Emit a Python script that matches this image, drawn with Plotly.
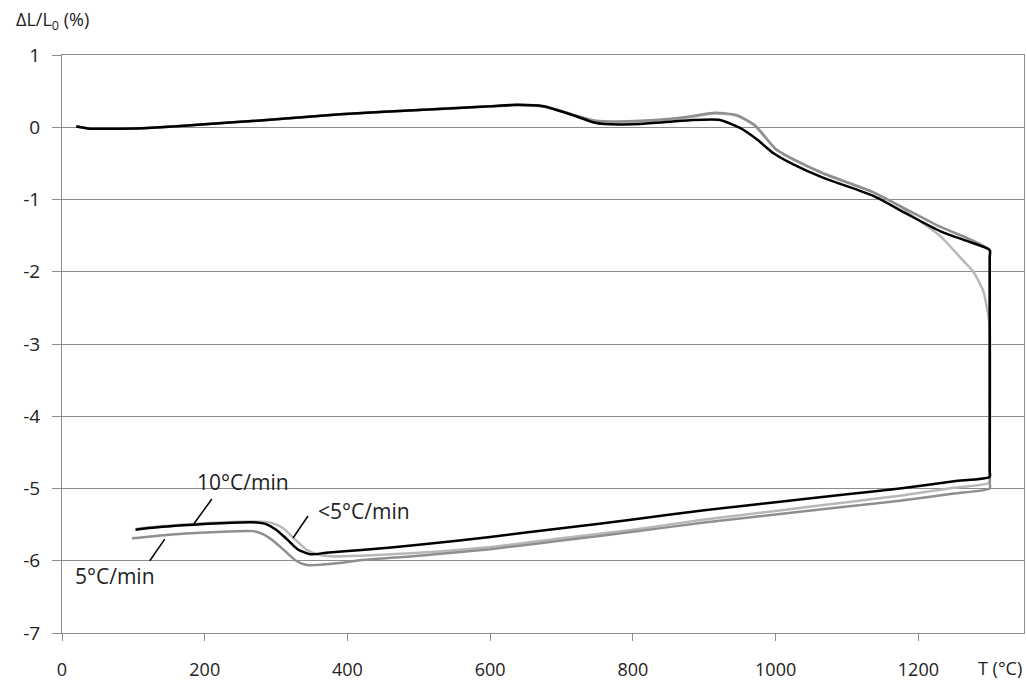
import plotly.graph_objects as go

# 10°C/min (black): heating, hold at 1300, cooling
T_10 = [20, 40, 80, 120, 200, 300, 390, 500, 600, 638, 674, 712, 744, 760, 810, 880, 922, 950, 974, 997,
        1024, 1067, 1137, 1184, 1231, 1270, 1300, 1300, 1300, 1300, 1250, 1174, 1100, 1000, 900, 800, 700,
        600, 500, 420, 370, 348, 330, 315, 300, 285, 273, 250, 184, 140, 103]
dL_10 = [0.01, -0.02, -0.02, -0.01, 0.04, 0.11, 0.18, 0.24, 0.29, 0.31, 0.29, 0.18, 0.07, 0.045, 0.046, 0.097,
         0.10, -0.01, -0.17, -0.36, -0.51, -0.70, -0.95, -1.20, -1.44, -1.58, -1.70, -1.80, -4.76, -4.84,
         -4.90, -5.00, -5.08, -5.19, -5.30, -5.43, -5.55, -5.67, -5.78, -5.85, -5.89, -5.91, -5.84, -5.70,
         -5.57, -5.49, -5.47, -5.47, -5.50, -5.53, -5.57]

# 5°C/min (medium grey)
T_5 = [20, 40, 80, 120, 200, 300, 390, 500, 600, 640, 676, 714, 748, 780, 830, 880, 915, 945, 970, 1000,
       1030, 1067, 1137, 1184, 1231, 1270, 1300, 1300, 1300, 1300, 1250, 1174, 1100, 1000, 900, 800, 700,
       600, 500, 420, 390, 343, 328, 312, 298, 283, 268, 200, 150, 98]
dL_5 = [0.01, -0.02, -0.02, -0.01, 0.04, 0.11, 0.18, 0.24, 0.29, 0.31, 0.29, 0.18, 0.09, 0.08, 0.10, 0.15,
        0.20, 0.17, 0.03, -0.30, -0.47, -0.64, -0.90, -1.14, -1.38, -1.54, -1.70, -1.80, -4.92, -5.00,
        -5.07, -5.17, -5.25, -5.36, -5.47, -5.60, -5.72, -5.84, -5.93, -5.99, -6.03, -6.06, -6.00, -5.86,
        -5.74, -5.64, -5.59, -5.61, -5.64, -5.69]

# <5°C/min (light grey)
T_lt5 = [20, 40, 80, 120, 200, 300, 390, 500, 600, 640, 678, 716, 750, 780, 830, 880, 915, 945, 972, 1000,
         1030, 1067, 1137, 1170, 1198, 1230, 1263, 1277, 1291, 1297, 1300, 1300, 1300, 1250, 1174, 1100,
         1000, 900, 800, 700, 600, 500, 420, 380, 357, 343, 324, 310, 295, 280, 250, 184, 140, 103]
dL_lt5 = [0.01, -0.02, -0.02, -0.01, 0.04, 0.11, 0.18, 0.24, 0.29, 0.30, 0.28, 0.17, 0.08, 0.07, 0.09, 0.14,
          0.19, 0.16, 0.02, -0.30, -0.47, -0.64, -0.90, -1.07, -1.27, -1.50, -1.85, -2.00, -2.27, -2.55,
          -2.75, -4.84, -4.92, -4.99, -5.10, -5.19, -5.31, -5.43, -5.57, -5.69, -5.81, -5.89, -5.93, -5.94,
          -5.91, -5.85, -5.68, -5.55, -5.48, -5.46, -5.46, -5.49, -5.52, -5.56]

x_ticks = [0, 200, 400, 600, 800, 1000, 1200]
y_ticks = [1, 0, -1, -2, -3, -4, -5, -6, -7]

FONT = "Open Sans"
GRID = "#8c8c8c"
TXT = "#222222"

W, H = 1027, 680
ml, mr, mt, mb = 62, 3, 55, 47


def px_to_paper(px, py):
    return (px - ml) / (W - ml - mr), 1 - (py - mt) / (H - mt - mb)


fig = go.Figure()
fig.add_trace(go.Scatter(x=T_lt5, y=dL_lt5, mode="lines", name="<5°C/min",
                         line=dict(color="#b8b8b8", width=2.5, shape="spline", smoothing=0.6)))
fig.add_trace(go.Scatter(x=T_5, y=dL_5, mode="lines", name="5°C/min",
                         line=dict(color="#8f8f8f", width=2.5, shape="spline", smoothing=0.6)))
fig.add_trace(go.Scatter(x=T_10, y=dL_10, mode="lines", name="10°C/min",
                         line=dict(color="#000000", width=2.5, shape="spline", smoothing=0.6)))

# pointer lines for labels
pointers = [((183.6, -5.505), (210.0, -5.145)),
            ((323.7, -5.685), (344.7, -5.38)),
            ((123.0, -6.00), (144.0, -5.70))]
for (x0, y0), (x1, y1) in pointers:
    fig.add_shape(type="line", x0=x0, y0=y0, x1=x1, y1=y1, xref="x", yref="y",
                  line=dict(color="#000000", width=1.5))

labels = [(254, -4.91, "10°C/min"), (423, -5.31, "<5°C/min"), (74, -6.21, "5°C/min")]
for x, y, t in labels:
    fig.add_annotation(x=x, y=y, text=t, showarrow=False, xref="x", yref="y",
                       font=dict(family=FONT, size=21, color=TXT))

xp, yp = px_to_paper(52, 21)
fig.add_annotation(x=xp, y=yp, xref="paper", yref="paper", text="ΔL/L<sub>0</sub> (%)",
                   showarrow=False, xanchor="center", yanchor="middle",
                   font=dict(family=FONT, size=18, color=TXT))
xp, yp = px_to_paper(1024, 668)
fig.add_annotation(x=xp, y=yp, xref="paper", yref="paper", text="T (°C)",
                   showarrow=False, xanchor="right", yanchor="middle",
                   font=dict(family=FONT, size=18, color=TXT))

fig.update_layout(
    width=W, height=H,
    margin=dict(l=ml, r=mr, t=mt, b=mb, pad=0, autoexpand=False),
    paper_bgcolor="white", plot_bgcolor="white",
    showlegend=False,
    xaxis=dict(range=[0, 1348], tickvals=x_ticks, ticktext=[str(v) for v in x_ticks],
               showgrid=False, zeroline=False, showline=True, linecolor=GRID, linewidth=1,
               mirror=True, ticks="outside", ticklen=7, tickcolor=GRID, tickwidth=1,
               ticklabelstandoff=13, automargin=False,
               tickfont=dict(family=FONT, size=18, color=TXT)),
    yaxis=dict(range=[-7, 1], tickvals=y_ticks, ticktext=[str(v) for v in y_ticks],
               showgrid=True, gridcolor=GRID, gridwidth=1, zeroline=False,
               showline=True, linecolor=GRID, linewidth=1, mirror=True,
               ticks="outside", ticklen=9, tickcolor=GRID, tickwidth=1,
               ticklabelstandoff=8, automargin=False,
               tickfont=dict(family=FONT, size=19, color=TXT)),
)

fig.write_html("out.html", config={"displayModeBar": False},
               post_script="document.body.style.margin='0';document.body.style.overflow='hidden';")
